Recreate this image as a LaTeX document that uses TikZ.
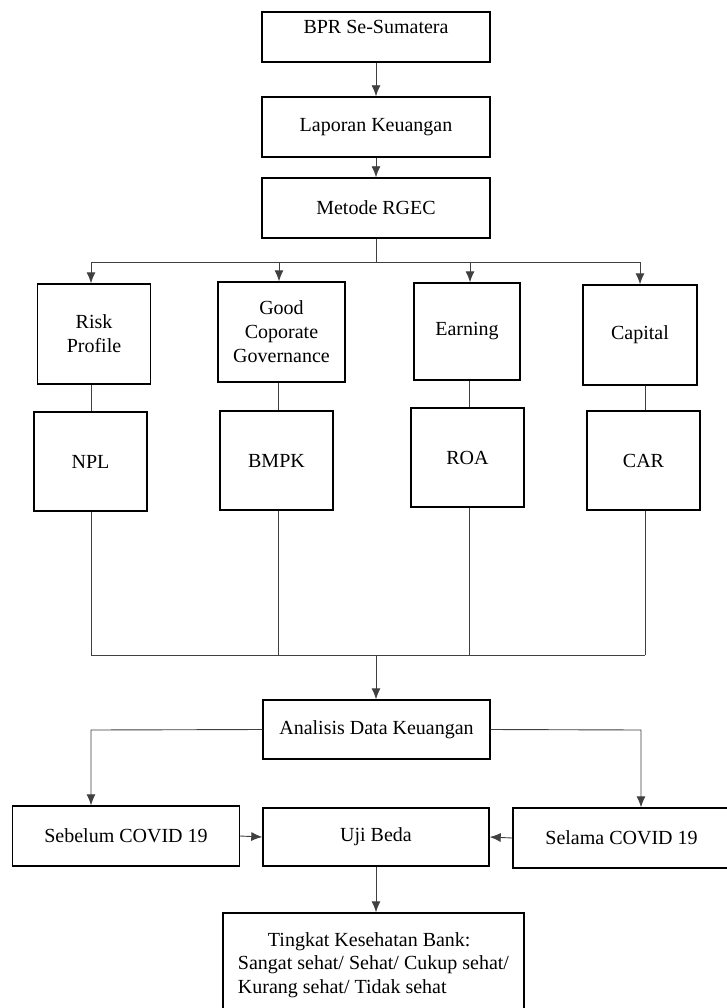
\documentclass[tikz,border=0pt]{standalone}
\usepackage{fontspec}
\setmainfont{Liberation Serif}
\usetikzlibrary{arrows.meta}
\begin{document}
\begin{tikzpicture}[x=1pt,y=-1pt,
 box/.style={draw=black,line width=1.4pt,rectangle,inner sep=2pt,align=center,font=\fontsize{20}{24}\selectfont},
 conn/.style={draw=black!75,line width=0.9pt},
 arr/.style={conn,-{Latex[length=11pt,width=9pt]}}]
\useasboundingbox (0,0) rectangle (727,1008);
\clip (0,0) rectangle (727,1008);
\fill[white] (0,0) rectangle (727,1008);
% top chain
\node[box,minimum width=228,minimum height=50,text height=13pt,text depth=20pt] (bpr) at (376,37) {BPR Se-Sumatera};
\node[box,minimum width=228,minimum height=60] (lap) at (376,127) {Laporan Keuangan};
\node[box,minimum width=228,minimum height=60] (met) at (376,208) {Metode RGEC};
% RGEC components
\node[box,minimum width=113.5,minimum height=100] (risk) at (94,334) {Risk\\Profile};
\node[box,minimum width=127,minimum height=100] (good) at (281.5,332) {Good\\Coporate\\Governance};
\node[box,minimum width=106,minimum height=97] (earn) at (467,331.5) {Earning};
\node[box,minimum width=114,minimum height=100] (cap) at (640,335) {Capital};
% ratios
\node[box,minimum width=113,minimum height=99] (npl) at (90.5,461.5) {NPL};
\node[box,minimum width=113,minimum height=99] (bmpk) at (276.5,460.5) {BMPK};
\node[box,minimum width=113,minimum height=99] (roa) at (467.5,457.5) {ROA};
\node[box,minimum width=113,minimum height=99] (car) at (643.5,460.5) {CAR};
% analysis
\node[box,minimum width=227,minimum height=59] (ana) at (376.5,729.5) {Analisis Data Keuangan};
\node[box,minimum width=226.5,minimum height=60] (seb) at (126,836) {Sebelum COVID 19};
\node[box,minimum width=226,minimum height=58] (uji) at (376,837) {Uji Beda};
\node[box,minimum width=217,minimum height=60] (sel) at (621.5,838) {Selama COVID 19};
\node[box,minimum width=301,minimum height=104,align=left,font=\fontsize{20}{23.5}\selectfont] (tk) at (373.5,965)
  {\hspace*{30pt}Tingkat Kesehatan Bank:\\Sangat sehat/ Sehat/ Cukup sehat/\\Kurang sehat/ Tidak sehat};
% helper coordinates
\coordinate (c1) at (91,262);
\coordinate (c2) at (279,262);
\coordinate (c3) at (470,262);
\coordinate (c4) at (640,262);
\coordinate (cm) at (376,262);
\coordinate (d1) at (91,655);
\coordinate (d2) at (278,655);
\coordinate (d3) at (469,655);
\coordinate (d4) at (645,655);
\coordinate (dm) at (376,655);
\coordinate (al) at (91,730);
\coordinate (ar) at (641,730);
% connectors
\draw[arr] (bpr) -- (lap);
\draw[arr] (lap) -- (met);
\draw[conn] (met.south) -- (cm);
\draw[conn] (c1) -- (c4);
\draw[arr] (c1) -- (c1 |- risk.north);
\draw[arr] (c2) -- (c2 |- good.north);
\draw[arr] (c3) -- (c3 |- earn.north);
\draw[arr] (c4) -- (c4 |- cap.north);
\draw[conn] (risk.south -| d1) -- (npl.north -| d1);
\draw[conn] (good.south -| d2) -- (bmpk.north -| d2);
\draw[conn] (earn.south -| d3) -- (roa.north -| d3);
\draw[conn] (cap.south -| d4) -- (car.north -| d4);
\draw[conn] (npl.south -| d1) -- (d1);
\draw[conn] (bmpk.south -| d2) -- (d2);
\draw[conn] (roa.south -| d3) -- (d3);
\draw[conn] (car.south -| d4) -- (d4);
\draw[conn] (d1) -- (d4);
\draw[arr] (dm) -- (dm |- ana.north);
\draw[arr] (ana.west) -- (al) -- (al |- seb.north);
\draw[arr] (ana.east) -- (ar) -- (ar |- sel.north);
\draw[arr] (seb.east) -- (uji.west);
\draw[arr] (sel.west) -- (uji.east);
\draw[arr] (uji.south) -- (uji.south |- tk.north);
\end{tikzpicture}
\end{document}
